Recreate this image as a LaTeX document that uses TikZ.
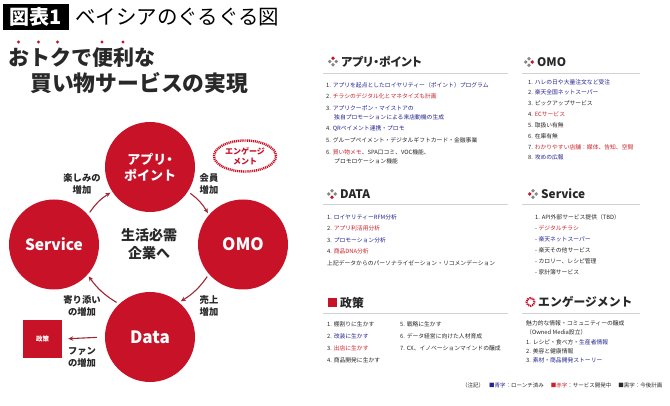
\documentclass[tikz,border=0pt]{standalone}
\usepackage{fontspec}
\setmainfont{Noto Sans CJK JP}
\usetikzlibrary{arrows.meta,shapes.geometric}
\definecolor{accent}{RGB}{200,18,40}
\definecolor{arrowred}{RGB}{160,40,55}
\definecolor{navy}{RGB}{35,35,145}
\definecolor{txtred}{RGB}{205,35,45}
\definecolor{dark}{RGB}{40,40,40}
\definecolor{icongray}{RGB}{135,135,135}
\definecolor{rulegray}{RGB}{210,210,210}
\newcommand\fsz[2]{\fontsize{#1}{#2}\selectfont}
\newcommand\sicon[3]{%
  \foreach \k/\dx/\dy in {1/0/-3.3,2/3.3/0,3/0/3.3,4/-3.3/0}{%
    \ifnum\k=#3\relax\def\cc{accent}\else\def\cc{icongray}\fi
    \fill[\cc] (#1+\dx,#2+\dy) circle (1.9pt);
  }}
\tikzset{
  bigc/.style={circle,fill=accent,minimum size=90pt,inner sep=0pt,text=white,align=center,font=\bfseries\fsz{13}{16}},
  cyc/.style={draw=arrowred,line width=1.1pt,-{Stealth[length=5pt,width=4.5pt]},shorten <=3pt,shorten >=2pt},
  lbl/.style={inner sep=0pt,align=center,text=dark,font=\bfseries\fsz{9.3}{12}},
  sectitle/.style={anchor=west,inner sep=0pt,text=dark,font=\bfseries\fsz{11.8}{14}},
  item/.style={anchor=west,inner sep=0pt,text=dark,font=\fsz{5.8}{7}},
  rule/.style={draw=rulegray,line width=0.9pt}
}
\begin{document}
\begin{tikzpicture}[x=1pt,y=-1pt]
\useasboundingbox (0,0) rectangle (670,406);
\fill[white] (0,0) rectangle (670,406);

% title
\node[fill=black,text=white,font=\bfseries\fsz{20}{22},minimum width=66pt,minimum height=26pt,inner sep=0pt] (tbox) at (35.5,17) {図表1};
\node[anchor=west,inner sep=0pt,font=\fsz{20.5}{22},text=black] (ttl) at (75,17) {ベイシアのぐるぐる図};

% heading
\node[anchor=west,inner sep=0pt,font=\bfseries\fsz{21}{24},text=dark] (h1) at (8,58) {おトクで便利な};
\node[anchor=west,inner sep=0pt,font=\bfseries\fsz{21.8}{24},text=dark] (h2) at (30,83) {買い物サービスの実現};
\foreach \px in {18.5,38.5,57.5,102,123}{\fill[accent] (\px,42) circle (1.6pt);}

% circles
\node[bigc] (app) at (150,167) {アプリ{\addfontfeatures{RawFeature=+palt}・}\\ポイント};
\node[bigc,font=\bfseries\fsz{15.5}{18}] (serv) at (54,244.5) {Service};
\node[bigc,font=\bfseries\fsz{17}{18}] (omo) at (243,244.5) {OMO};
\node[bigc,font=\bfseries\fsz{17}{18}] (data) at (150,337) {Data};
\node[inner sep=0pt,align=center,text=dark,font=\bfseries\fsz{14}{18}] (core) at (149,244) {生活必需\\企業へ};

% engagement bubble
\node[ellipse,draw=accent,line width=2.4pt,dash pattern=on 1.1pt off 0.8pt,minimum width=62pt,minimum height=31pt,inner sep=0pt,align=center,text=accent,font=\bfseries\fsz{8}{10}] (eng) at (245,156) {エンゲージ\\メント};

% policy box
\node[fill=accent,minimum width=39pt,minimum height=38pt,inner sep=0pt,text=white,font=\bfseries\fsz{6.5}{8}] (pol) at (42.5,339) {政策};

% cycle arrows
\draw[cyc] (serv.41) to[bend left=12] (app.213);
\draw[cyc] (app.-33) to[bend left=12] (omo.139);
\draw[cyc] (omo.-139) to[bend left=12] (data.50);
\draw[cyc] (data.133) to[bend left=12] (serv.-42);
\draw[cyc,shorten <=8pt,shorten >=6pt] (data.west) -- (pol.east);

% labels
\node[lbl] (l1) at (82,184) {楽しみの\\増加};
\node[lbl] (l2) at (209,184) {会員\\増加};
\node[lbl] (l3) at (209,306) {売上\\増加};
\node[lbl] (l4) at (82,306) {寄り添い\\の増加};
\node[lbl] (l5) at (82,357) {ファン\\の増加};

% ===== right panels =====
% Apri
\sicon{333}{61.5}{1}
\node[sectitle] (ta) at (341,61.5) {\addfontfeatures{RawFeature=+palt}アプリ・ポイント};
\draw[rule] (323,73.5) -- (508,73.5);
\node[item] (a1) at (326,85) {1. \textcolor{navy}{アプリを起点としたロイヤリティー（ポイント）プログラム}};
\node[item] (a2) at (326,96.5) {2. \textcolor{txtred}{チラシのデジタル化とマネタイズも計画}};
\node[item] (a3) at (326,108) {3. \textcolor{navy}{アプリクーポン・マイストアの}};
\node[item] (a3b) at (334,117.5) {\textcolor{navy}{独自プロモーションによる来店動機の生成}};
\node[item] (a4) at (326,129) {4. \textcolor{navy}{QRペイメント連携・プロモ}};
\node[item] (a5) at (326,140.5) {5. グループペイメント・デジタルギフトカード・金融事業};
\node[item] (a6) at (326,152) {6. \textcolor{txtred}{買い物メモ}、SPA口コミ、VOC機能、};
\node[item] (a6b) at (334,161.5) {プロモロケーション機能};

% OMO
\sicon{529}{62}{2}
\node[sectitle] (to) at (537,62) {OMO};
\draw[rule] (522,73.5) -- (640,73.5);
\node[item] (o1) at (528,82) {1. \textcolor{navy}{ハレの日や大量注文など受注}};
\node[item] (o2) at (528,92.5) {2. \textcolor{navy}{楽天全国ネットスーパー}};
\node[item] (o3) at (528,103.5) {3. ピックアップサービス};
\node[item] (o4) at (528,114.5) {4. \textcolor{txtred}{ECサービス}};
\node[item] (o5) at (528,125.5) {5. 取扱い有無};
\node[item] (o6) at (528,136) {6. 在庫有無};
\node[item] (o7) at (528,147) {7. \textcolor{txtred}{わかりやすい店舗：媒体、告知、空間}};
\node[item] (o8) at (528,157.5) {8. \textcolor{navy}{攻めの広報}};

% DATA
\sicon{332}{194}{3}
\node[sectitle] (td) at (340,194) {DATA};
\draw[rule] (323,204) -- (508,204);
\node[item] (d1) at (327,217) {1. \textcolor{navy}{ロイヤリティーRFM分析}};
\node[item] (d2) at (327,228.5) {2. \textcolor{txtred}{アプリ利活用分析}};
\node[item] (d3) at (327,240) {3. \textcolor{navy}{プロモーション分析}};
\node[item] (d4) at (327,251.5) {4. \textcolor{txtred}{商品DNA分析}};
\node[item] (d5) at (327,263) {上記データからのパーソナライゼーション・リコメンデーション};

% Service
\sicon{533}{194}{4}
\node[sectitle] (ts) at (541,194) {Service};
\draw[rule] (522,204) -- (640,204);
\node[item] (s1) at (535,217) {1. API外部サービス提供（TBD）};
\node[item] (s2) at (535,228.5) {- \textcolor{txtred}{デジタルチラシ}};
\node[item] (s3) at (535,239.5) {- \textcolor{navy}{楽天ネットスーパー}};
\node[item] (s4) at (535,250.5) {- 楽天その他サービス};
\node[item] (s5) at (535,261.5) {- カロリー、レシピ管理};
\node[item] (s6) at (535,272.5) {- 家計簿サービス};

% Policy
\fill[accent] (328,298) rectangle (336.5,307);
\node[sectitle] (tp) at (340,302.5) {政策};
\draw[rule] (323,313) -- (508,313);
\node[item] (p1) at (327,324) {1. 棚割りに生かす};
\node[item] (p2) at (327,336.5) {2. \textcolor{navy}{改装に生かす}};
\node[item] (p3) at (327,348) {3. \textcolor{txtred}{出店に生かす}};
\node[item] (p4) at (327,360) {4. 商品開発に生かす};
\node[item] (p5) at (400,324) {5. 戦略に生かす};
\node[item] (p6) at (400,336.5) {6. データ経営に向けた人材育成};
\node[item] (p7) at (400,348) {7. CX、イノベーションマインドの醸成};

% Engagement
\draw[accent,line width=2pt,dash pattern=on 1.2pt off 0.8pt] (530.5,302) circle (4pt);
\node[sectitle] (te) at (538,302) {エンゲージメント};
\draw[rule] (522,313) -- (640,313);
\node[item] (e1) at (526,323) {魅力的な情報・コミュニティーの醸成};
\node[item] (e2) at (526,332) {（Owned Media設立）};
\node[item] (e3) at (526,342) {1. レシピ・食べ方・\textcolor{navy}{生産者情報}};
\node[item] (e4) at (526,351) {2. 美容と健康情報};
\node[item] (e5) at (526,360.5) {3. \textcolor{navy}{素材・商品開発ストーリー}};

% footnote
\node[item,font=\fsz{5.5}{7}] (fn) at (462,385) {（注記）\hspace{5pt}\textcolor{navy}{■青字}：ローンチ済み\hspace{7pt}\textcolor{txtred}{■赤字}：サービス開発中\hspace{7pt}■黒字：今後計画};
\end{tikzpicture}
\end{document}
